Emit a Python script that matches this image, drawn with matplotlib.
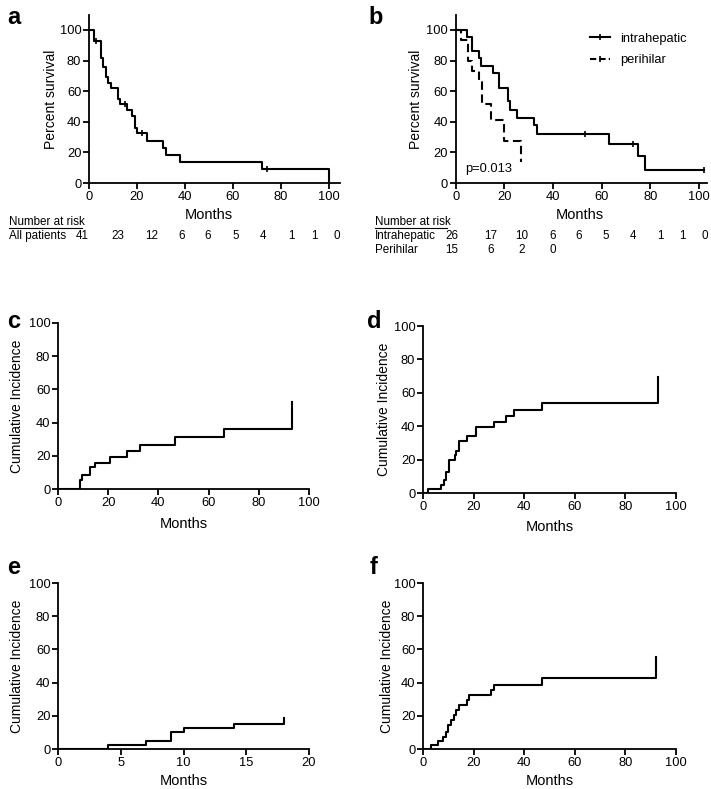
import matplotlib
matplotlib.use("Agg")
import matplotlib.pyplot as plt
from matplotlib.lines import Line2D

plt.rcParams['font.family'] = ['Liberation Sans', 'DejaVu Sans']

W, H = 711, 789

# ---------------- data ----------------
# Panel a: all patients (Kaplan-Meier)
a_time = [0, 2, 5, 6, 7, 8, 9, 12, 13, 16, 18, 19, 20, 24, 31, 32, 38, 72, 100]
a_surv = [100, 92.5, 82, 75.5, 69, 65.5, 62, 55, 51.5, 47.5, 43.5, 36, 32.5, 27.5, 23, 18, 13.5, 9, 0]
a_cens_t = [3, 15, 22, 74]
a_cens_s = [92.5, 51.5, 32.5, 9]

# Panel b: intrahepatic vs perihilar
ih_time = [0, 4.5, 6.5, 9.5, 10.5, 15.5, 17.8, 21.4, 22.4, 25.3, 32.3, 33.4, 63, 75, 78, 102]
ih_surv = [100, 95.6, 86, 81.4, 76.4, 71.6, 61.8, 53.7, 48, 42.8, 37.8, 32.3, 25.8, 17.5, 8.7, 8.7]
ih_cens_t = [53, 73, 102]
ih_cens_s = [32.3, 25.8, 8.7]

ph_time = [0, 2.2, 5.2, 6.6, 9.6, 10.7, 14.4, 20.0, 26.7]
ph_surv = [100, 93.3, 80, 73.3, 66.2, 51.4, 41, 27.5, 13.5]

# Panel c-f: cumulative incidence
c_time = [0, 8.6, 9.6, 12.9, 14.9, 20.6, 27.6, 32.8, 46.7, 66, 93.2]
c_inc = [0, 5.2, 8.2, 13.2, 15.8, 19, 22.6, 26.6, 31.2, 36.4, 52.6]

d_time = [0, 2.1, 7.3, 8.2, 9.2, 10.2, 12.5, 13.2, 14.1, 17.2, 21.1, 28.1, 33, 36, 47.1, 92.7]
d_inc = [0, 2.6, 5, 7.6, 12.4, 19.9, 22.5, 24.9, 30.9, 33.9, 39.8, 42.4, 46.2, 49.8, 53.8, 69.7]

e_time = [0, 4, 7, 9, 10, 14, 18]
e_inc = [0, 2.2, 4.6, 10, 12.6, 15.2, 18.6]

f_time = [0, 3, 5.9, 7.9, 9, 9.9, 10.9, 12.1, 13.2, 14.2, 17.2, 18.1, 27, 28.1, 47.1, 92.1]
f_inc = [0, 2.4, 4.6, 7.2, 10, 14.6, 17.6, 20.6, 23.6, 26.6, 29.6, 32.6, 35.6, 38.6, 42.6, 55.6]

# Number at risk tables
risk_all = [41, 23, 12, 6, 6, 5, 4, 1, 1, 0]
risk_ih = [26, 17, 10, 6, 6, 5, 4, 1, 1, 0]
risk_ph = [15, 6, 2, 0]

# ---------------- layout helpers ----------------
fig = plt.figure(figsize=(W / 100, H / 100), dpi=100)


def add_ax(x0, x1, ytop, ybot):
    return fig.add_axes([x0 / W, 1 - ybot / H, (x1 - x0) / W, (ybot - ytop) / H])


def fx(px):
    return px / W


def fy(py):
    return 1 - py / H


TICK_FS = 9.3
LAB_FS = 10
MON_FS = 10.5
LW = 1.5


def style(ax, xlim, ylim, xticks, yticks):
    ax.set_xlim(*xlim)
    ax.set_ylim(*ylim)
    ax.set_xticks(xticks)
    ax.set_yticks(yticks)
    for s in ['top', 'right']:
        ax.spines[s].set_visible(False)
    for s in ['left', 'bottom']:
        ax.spines[s].set_linewidth(1.3)
        ax.spines[s].set_color('black')
        ax.spines[s].set_clip_on(False)
    ax.tick_params(direction='out', length=4, width=1.3, labelsize=TICK_FS, pad=1.5,
                   colors='black')
    ax.patch.set_alpha(0)


def place_ylabel(ax, text, x_px, x0_px, x1_px):
    # x_px is the centre of the rotated label; its anchor is its right edge
    ax.set_ylabel(text, fontsize=LAB_FS)
    ax.yaxis.set_label_coords((x_px + 6 - x0_px) / (x1_px - x0_px), 0.5)


# ---------------- panel a ----------------
axa = add_ax(89, 340, 15, 183)
style(axa, (0, 104.6), (0, 109.8), [0, 20, 40, 60, 80, 100], [0, 20, 40, 60, 80, 100])
axa.step(a_time, a_surv, where='post', color='black', lw=LW)
axa.plot(a_cens_t, a_cens_s, ls='none', marker='|', ms=5, mew=1.2, color='black')
place_ylabel(axa, 'Percent survival', 52, 89, 340)

# ---------------- panel b ----------------
axb = add_ax(455.7, 707, 15, 183)
style(axb, (0, 103.3), (0, 109.8), [0, 20, 40, 60, 80, 100], [0, 20, 40, 60, 80, 100])
axb.step(ih_time, ih_surv, where='post', color='black', lw=LW, label='intrahepatic')
axb.step(ph_time, ph_surv, where='post', color='black', lw=LW, ls=(0, (4, 2.2)),
         label='perihilar')
axb.plot(ih_cens_t, ih_cens_s, ls='none', marker='|', ms=5, mew=1.2, color='black')
place_ylabel(axb, 'Percent survival', 417, 455.7, 707)
axb.text(4, 9, 'p=0.013', fontsize=TICK_FS, va='center', ha='left')
handles = [Line2D([], [], color='black', lw=LW, marker='|', ms=5, mew=1.2),
           Line2D([], [], color='black', lw=LW, ls=(0, (3, 1.5)), marker='|', ms=5, mew=1.2)]
axb.legend(handles, ['intrahepatic', 'perihilar'], loc='upper left',
           bbox_to_anchor=(0.535, 0.895), frameon=False, fontsize=TICK_FS,
           handlelength=1.5, handletextpad=0.8, labelspacing=0.75, borderpad=0,
           borderaxespad=0)

# Months labels for a,b
fig.text(fx(209), fy(215), 'Months', fontsize=MON_FS, ha='center', va='center')
fig.text(fx(580), fy(215), 'Months', fontsize=MON_FS, ha='center', va='center')

# Risk tables
RFS = 8.4
fig.text(fx(9), fy(222), 'Number at risk', fontsize=RFS, va='center', ha='left')
fig.add_artist(Line2D([fx(9), fx(82)], [fy(228), fy(228)], color='black', lw=0.8))
fig.text(fx(9), fy(236), 'All patients', fontsize=RFS, va='center', ha='left')
pos_a = [82, 118, 152, 182, 208, 236, 263, 291, 314, 337]
for p, v in zip(pos_a, risk_all):
    fig.text(fx(p), fy(236), str(v), fontsize=RFS, va='center', ha='center')

fig.text(fx(375), fy(222), 'Number at risk', fontsize=RFS, va='center', ha='left')
fig.add_artist(Line2D([fx(375), fx(447)], [fy(228), fy(228)], color='black', lw=0.8))
fig.text(fx(375), fy(236), 'Intrahepatic', fontsize=RFS, va='center', ha='left')
fig.text(fx(375), fy(250), 'Perihilar', fontsize=RFS, va='center', ha='left')
pos_b = [452, 491, 522, 553, 579, 606, 633, 660, 682, 705]
for p, v in zip(pos_b, risk_ih):
    fig.text(fx(p), fy(236), str(v), fontsize=RFS, va='center', ha='center')
for p, v in zip(pos_b, risk_ph):
    fig.text(fx(p), fy(250), str(v), fontsize=RFS, va='center', ha='center')


# ---------------- panels c-f ----------------
def ci_panel(x0, x1, ytop, ybot, t, v, xmax, xticks, ylab_x, months_y):
    ax = add_ax(x0, x1, ytop, ybot)
    style(ax, (0, xmax), (0, 100), xticks, [0, 20, 40, 60, 80, 100])
    ax.step(t, v, where='post', color='black', lw=LW)
    place_ylabel(ax, 'Cumulative Incidence', ylab_x, x0, x1)
    fig.text(fx((x0 + x1) / 2), fy(months_y), 'Months', fontsize=MON_FS,
             ha='center', va='center')
    return ax


ci_panel(58, 309, 323, 489, c_time, c_inc, 100, [0, 20, 40, 60, 80, 100], 18, 524)
ci_panel(423, 676, 326, 493, d_time, d_inc, 100, [0, 20, 40, 60, 80, 100], 385, 527)
ci_panel(58, 309, 583, 749, e_time, e_inc, 20, [0, 5, 10, 15, 20], 18, 781)
ci_panel(423, 676, 583, 749, f_time, f_inc, 100, [0, 20, 40, 60, 80, 100], 388, 781)

# Panel letters
for lab, x, y in [('a', 14, 17), ('b', 376, 17), ('c', 14, 322), ('d', 374, 322),
                  ('e', 14, 568), ('f', 374, 568)]:
    fig.text(fx(x), fy(y), lab, fontsize=17, fontweight='bold', ha='center', va='center')

fig.savefig('out.png', dpi=100)
